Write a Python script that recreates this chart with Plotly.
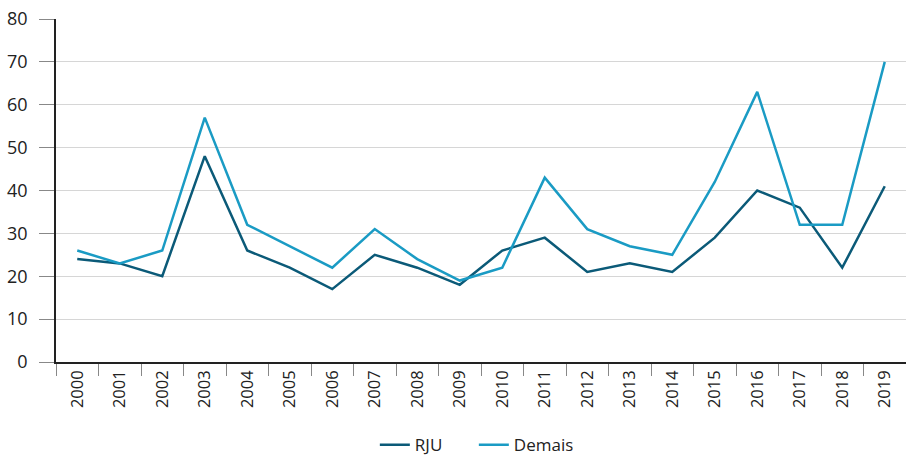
import plotly.graph_objects as go

years = [str(y) for y in range(2000, 2020)]
rju = [24, 23, 20, 48, 26, 22, 17, 25, 22, 18, 26, 29, 21, 23, 21, 29, 40, 36, 22, 41]
demais = [26, 23, 26, 57, 32, 27, 22, 31, 24, 19, 22, 43, 31, 27, 25, 42, 63, 32, 32, 70]
y_ticks = [0, 10, 20, 30, 40, 50, 60, 70, 80]

FONT = "Open Sans"
fig = go.Figure()
fig.add_trace(go.Scatter(x=years, y=rju, name="RJU", mode="lines",
                         line=dict(color="#0b5a78", width=2.5)))
fig.add_trace(go.Scatter(x=years, y=demais, name="Demais", mode="lines",
                         line=dict(color="#1a9bc4", width=2.5)))

fig.update_layout(
    width=906, height=458,
    margin=dict(l=56, r=0, t=19, b=96),
    plot_bgcolor="white", paper_bgcolor="white",
    font=dict(family=FONT, size=17, color="#222222"),
    showlegend=True,
    legend=dict(orientation="h", xref="container", yref="container",
                x=0.523, xanchor="center", y=0.028, yanchor="middle",
                font=dict(size=17), entrywidth=54, entrywidthmode="pixels",
                tracegroupgap=0, bgcolor="rgba(0,0,0,0)"),
    xaxis=dict(type="category", tickangle=-90, ticks="outside", tickson="boundaries",
               ticklen=12, tickcolor="#888888", tickwidth=1.2, automargin=False,
               showline=True, linecolor="#222222", linewidth=1.5,
               showgrid=False, tickfont=dict(size=16.5), range=[-0.5, 19.5]),
    yaxis=dict(range=[0, 80], tickvals=y_ticks, ticks="outside", ticklen=15,
               tickcolor="#888888", tickwidth=1.2, automargin=False,
               ticklabelstandoff=8,
               showline=True, linecolor="#222222", linewidth=1.5,
               showgrid=True, gridcolor="#d6d6d6", gridwidth=1.3,
               zeroline=False, tickfont=dict(size=18)),
)
fig.write_html("out.html", config={"displayModeBar": False},
               post_script="document.body.style.margin='0';document.documentElement.style.overflow='hidden';")
